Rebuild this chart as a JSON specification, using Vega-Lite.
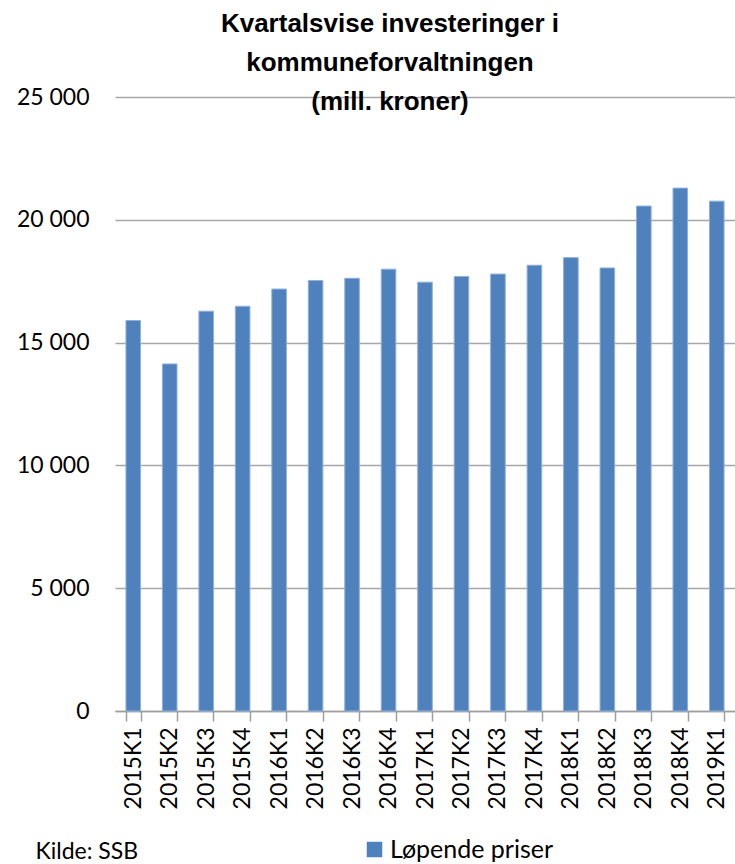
{
  "$schema": "https://vega.github.io/schema/vega-lite/v6.json",
  "autosize": {"type": "none"},
  "padding": {"left": 115, "top": 97, "right": 0, "bottom": 153},
  "width": 620,
  "height": 614,
  "background": "white",
  "title": {
    "text": ["Kvartalsvise investeringer i", "kommuneforvaltningen", "(mill. kroner)"],
    "anchor": "middle",
    "frame": "group",
    "dx": -35,
    "font": "Liberation Sans",
    "fontSize": 26,
    "fontWeight": "bold",
    "lineHeight": 39,
    "color": "#000000",
    "baseline": "alphabetic",
    "offset": -50
  },
  "data": {
    "values": [
      {"periode": "2015K1", "verdi": 15900, "serie": "Løpende priser"},
      {"periode": "2015K2", "verdi": 14130, "serie": "Løpende priser"},
      {"periode": "2015K3", "verdi": 16280, "serie": "Løpende priser"},
      {"periode": "2015K4", "verdi": 16480, "serie": "Løpende priser"},
      {"periode": "2016K1", "verdi": 17180, "serie": "Løpende priser"},
      {"periode": "2016K2", "verdi": 17530, "serie": "Løpende priser"},
      {"periode": "2016K3", "verdi": 17620, "serie": "Løpende priser"},
      {"periode": "2016K4", "verdi": 17990, "serie": "Løpende priser"},
      {"periode": "2017K1", "verdi": 17460, "serie": "Løpende priser"},
      {"periode": "2017K2", "verdi": 17690, "serie": "Løpende priser"},
      {"periode": "2017K3", "verdi": 17790, "serie": "Løpende priser"},
      {"periode": "2017K4", "verdi": 18150, "serie": "Løpende priser"},
      {"periode": "2018K1", "verdi": 18460, "serie": "Løpende priser"},
      {"periode": "2018K2", "verdi": 18040, "serie": "Løpende priser"},
      {"periode": "2018K3", "verdi": 20560, "serie": "Løpende priser"},
      {"periode": "2018K4", "verdi": 21290, "serie": "Løpende priser"},
      {"periode": "2019K1", "verdi": 20760, "serie": "Løpende priser"}
    ]
  },
  "mark": {"type": "bar", "stroke": "#8fb0dc", "strokeWidth": 1},
  "encoding": {
    "x": {
      "field": "periode",
      "type": "ordinal",
      "sort": null,
      "scale": {"paddingInner": 0.6, "paddingOuter": 0.3},
      "axis": {
        "title": "Kilde: SSB",
        "titleX": -80,
        "titleY": 147,
        "titleAlign": "left",
        "titleAnchor": "start",
        "titleBaseline": "alphabetic",
        "titleFont": "Lato",
        "titleFontSize": 23,
        "titleFontWeight": "normal",
        "titleColor": "#000000",
        "labelAngle": -90,
        "labelAlign": "right",
        "labelBaseline": "middle",
        "labelFont": "Lato",
        "labelFontSize": 23,
        "labelColor": "#000000",
        "labelPadding": 6,
        "tickBand": "extent",
        "tickSize": 10,
        "tickColor": "#9e9e9e",
        "tickWidth": 1.5,
        "domainColor": "#9e9e9e",
        "domainWidth": 1.5,
        "grid": false
      }
    },
    "y": {
      "field": "verdi",
      "type": "quantitative",
      "scale": {"domain": [0, 25000]},
      "axis": {
        "title": null,
        "values": [0, 5000, 10000, 15000, 20000, 25000],
        "labelExpr": "replace(format(datum.value, ','), ',', ' ')",
        "labelFont": "Lato",
        "labelFontSize": 23,
        "labelColor": "#000000",
        "labelPadding": 26,
        "ticks": false,
        "domain": false,
        "grid": true,
        "gridColor": "#a6a6a6",
        "gridWidth": 1.5
      }
    },
    "color": {
      "field": "serie",
      "type": "nominal",
      "scale": {"range": ["#4f81bd"]},
      "legend": {
        "title": null,
        "orient": "none",
        "legendX": 247,
        "legendY": 740,
        "symbolType": "square",
        "symbolSize": 240,
        "symbolStrokeWidth": 0,
        "labelFont": "Lato",
        "labelFontSize": 25,
        "labelLimit": 400,
        "labelColor": "#000000",
        "labelOffset": 3
      }
    }
  },
  "config": {"view": {"stroke": null}}
}
